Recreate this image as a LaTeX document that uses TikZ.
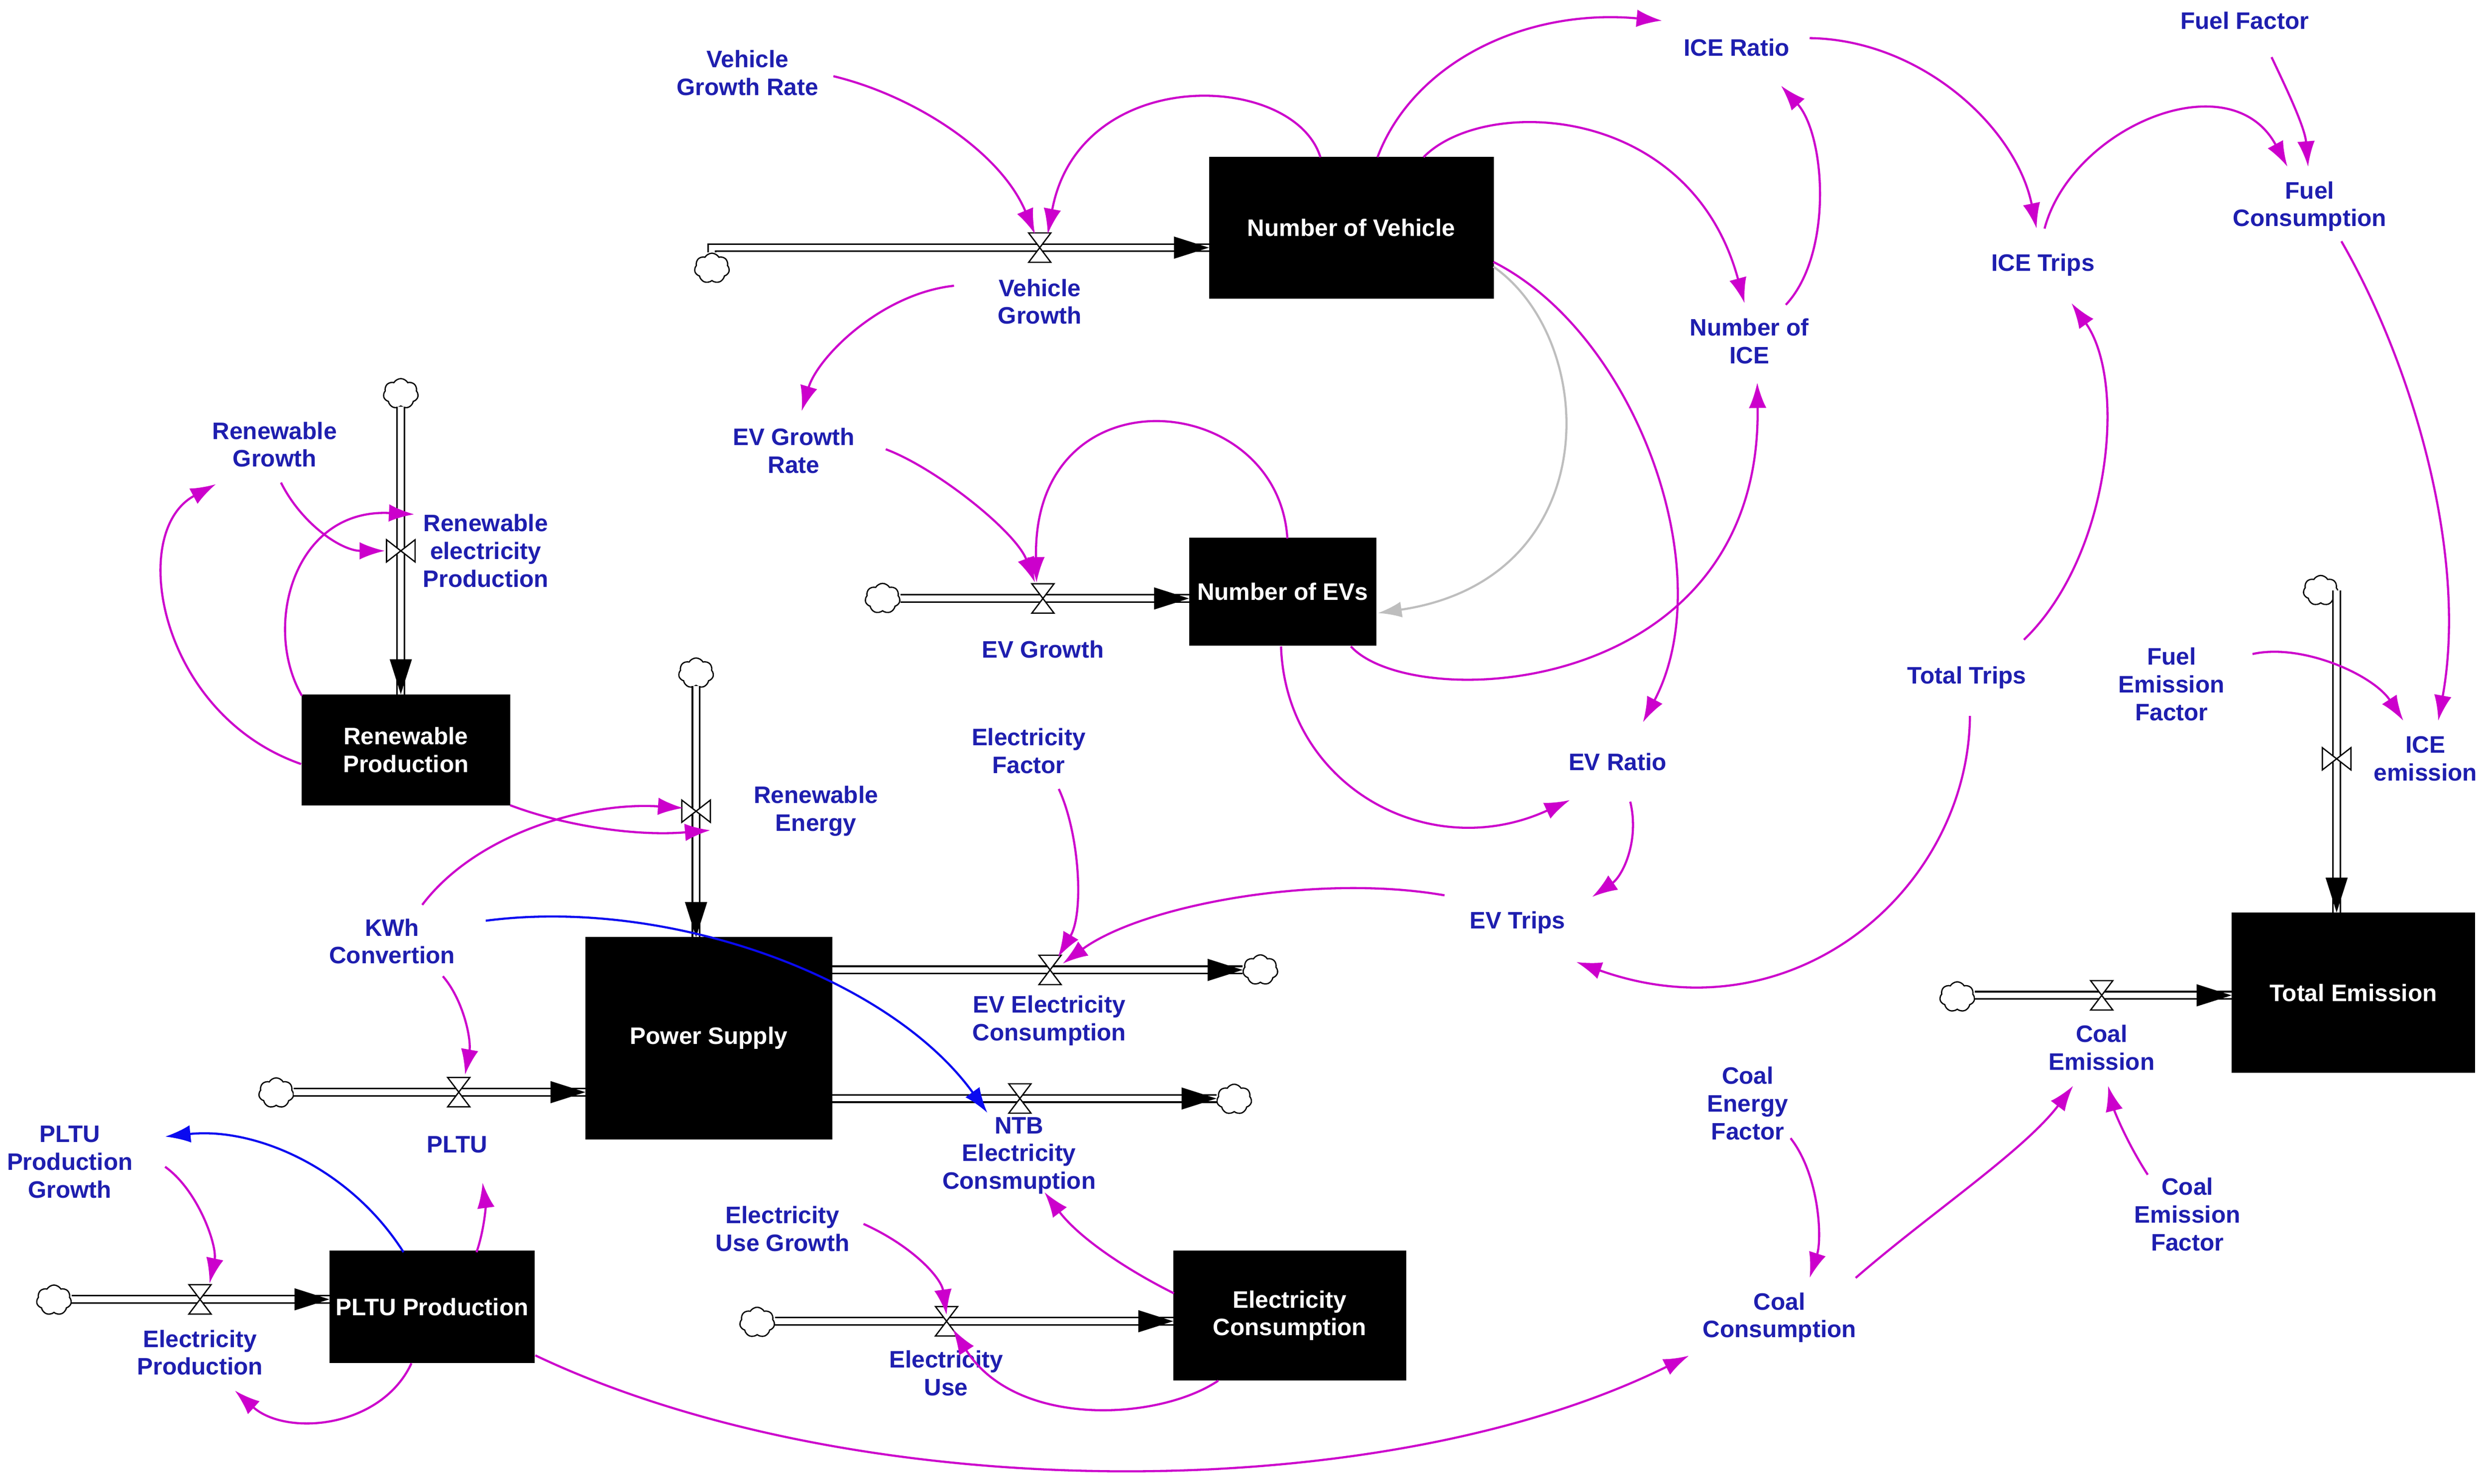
\documentclass[tikz,border=0pt]{standalone}
\usepackage{fontspec}
\setmainfont{Liberation Sans}
\usetikzlibrary{arrows.meta,shapes.symbols}
\definecolor{clbl}{RGB}{30,30,175}
\definecolor{cmag}{RGB}{204,0,204}
\definecolor{cblu}{RGB}{10,10,240}
\definecolor{cgry}{RGB}{190,190,190}
\begin{document}
\begin{tikzpicture}[x=1pt,y=-1pt,
 lab/.style={text=clbl,font=\fontsize{15}{17.5}\selectfont\bfseries,align=center,inner sep=0pt},
 stock/.style={fill=black,draw=black,text=white,font=\fontsize{15}{17.5}\selectfont\bfseries,align=center,inner sep=0pt},
 pipe/.style={draw=black,line width=1pt,double=white,double distance=3.6pt},
 src/.style={cloud,cloud puffs=7,cloud puff arc=120,aspect=1.15,draw=black,fill=white,line width=0.8pt,minimum width=22pt,minimum height=19pt,inner sep=0pt},
 cause/.style={cmag,line width=1.35pt,-{Latex[length=16pt,width=11pt]}},
 causeb/.style={cblu,line width=1.35pt,-{Latex[length=16pt,width=11pt]}},
 causeg/.style={cgry,line width=1.35pt,-{Latex[length=15pt,width=10pt]}},
 valveh/.pic={\draw[black,line width=0.8pt,fill=white] (-7,-9.25) -- (7,-9.25) -- (0,0) -- cycle (-7,9.25) -- (7,9.25) -- (0,0) -- cycle;},
 valvev/.pic={\draw[black,line width=0.8pt,fill=white] (-9,-7) -- (-9,7) -- (0,0) -- cycle (9,-7) -- (9,7) -- (0,0) -- cycle;}
]
\useasboundingbox[fill=white] (0,0) rectangle (1568,934.7);

% ---------- stocks ----------
\node[stock,minimum width=179pt,minimum height=89pt] (nv) at (851.3,143.5) {Number of Vehicle};
\node[stock,minimum width=117.5pt,minimum height=67.7pt] (nev) at (808,372.7) {Number of EVs};
\node[stock,minimum width=131pt,minimum height=69.5pt] (rp) at (255.7,472.3) {Renewable\\Production};
\node[stock,minimum width=155pt,minimum height=127pt] (ps) at (446.5,654) {Power Supply};
\node[stock,minimum width=129pt,minimum height=70.5pt] (pp) at (272.2,823.3) {PLTU Production};
\node[stock,minimum width=146.4pt,minimum height=81.5pt] (ec) at (812.5,828.7) {Electricity\\Consumption};
\node[stock,minimum width=153pt,minimum height=100.6pt] (te) at (1482.5,625.3) {Total Emission};

% ---------- auxiliaries ----------
\node[lab] (vgr) at (471,46) {Vehicle\\Growth Rate};
\node[lab] (icer) at (1094,30) {ICE Ratio};
\node[lab] (ff) at (1414,13) {Fuel Factor};
\node[lab] (fc) at (1455,130) {Fuel\\Consumption};
\node[lab] (icet) at (1287,167) {ICE Trips};
\node[lab] (nice) at (1102,215) {Number of\\ICE};
\node[lab] (evgr) at (500,284) {EV Growth\\Rate};
\node[lab] (rg) at (173,280) {Renewable\\Growth};
\node[lab] (tt) at (1239,427) {Total Trips};
\node[lab] (fef) at (1368,431) {Fuel\\Emission\\Factor};
\node[lab] (evr) at (1019,480) {EV Ratio};
\node[lab] (ef) at (648,473) {Electricity\\Factor};
\node[lab] (evt) at (956,581) {EV Trips};
\node[lab] (kwh) at (247,593) {KWh\\Convertion};
\node[lab] (ppg) at (44,732) {PLTU\\Production\\Growth};
\node[lab] (eug) at (493,774) {Electricity\\Use Growth};
\node[lab] (cenf) at (1101,695) {Coal\\Energy\\Factor};
\node[lab] (cc) at (1121,830) {Coal\\Consumption};
\node[lab] (cemf) at (1378,765) {Coal\\Emission\\Factor};

% ---------- flow labels ----------
\node[lab] (lvg) at (655,190) {Vehicle\\Growth};
\node[lab] (levg) at (657,409) {EV Growth};
\node[lab] (lrep) at (306,347) {Renewable\\electricity\\Production};
\node[lab] (lre) at (514,511) {Renewable\\Energy};
\node[lab] (lpltu) at (288,721) {PLTU};
\node[lab] (levc) at (661,643) {EV Electricity\\Consumption};
\node[lab] (lntb) at (642,728) {NTB\\Electricity\\Consmuption};
\node[lab] (lep) at (126,852) {Electricity\\Production};
\node[lab] (leu) at (596,865) {Electricity\\Use};
\node[lab] (lce) at (1324,660) {Coal\\Emission};
\node[lab] (lice) at (1528,478) {ICE\\emission};

% ---------- valves ----------
\coordinate (vvg) at (655,156);
\coordinate (vevg) at (657,377);
\coordinate (vrep) at (252.5,347);
\coordinate (vre) at (438.5,511);
\coordinate (vpltu) at (289,688);
\coordinate (vevc) at (661.5,611);
\coordinate (vntb) at (642.5,692);
\coordinate (vep) at (126,818.5);
\coordinate (veu) at (596.3,832.3);
\coordinate (vce) at (1324,627);
\coordinate (vice) at (1472,478);

% ---------- clouds ----------
\node[src] (c1) at (448.5,169) {};
\node[src] (c2) at (556,377) {};
\node[src] (c3) at (252.5,248) {};
\node[src] (c4) at (438.5,424) {};
\node[src] (c5) at (174,688.5) {};
\node[src] (c6) at (794,611) {};
\node[src] (c7) at (777.5,692.5) {};
\node[src] (c8) at (34,819) {};
\node[src] (c9) at (477,833) {};
\node[src] (c10) at (1233,628) {};
\node[src] (c11) at (1462,372) {};

% ---------- pipes ----------
\draw[pipe] (c1.north) |- (nv.west |- vvg);
\fill (nv.west |- vvg) -- ++(-22,-7) -- ++(0,14) -- cycle;
\draw[pipe] (c2.east |- vevg) -- (nev.west |- vevg);
\fill (nev.west |- vevg) -- ++(-22,-7) -- ++(0,14) -- cycle;
\draw[pipe] (vrep |- c3.south) -- (vrep |- rp.north);
\fill (vrep |- rp.north) -- ++(-7,-22) -- ++(14,0) -- cycle;
\draw[pipe] (vre |- c4.south) -- (vre |- ps.north);
\fill (vre |- ps.north) -- ++(-7,-22) -- ++(14,0) -- cycle;
\draw[pipe] (c5.east |- vpltu) -- (ps.west |- vpltu);
\fill (ps.west |- vpltu) -- ++(-22,-7) -- ++(0,14) -- cycle;
\draw[pipe] (ps.east |- vevc) -- (c6.west |- vevc);
\fill (c6.west |- vevc) -- ++(-22,-7) -- ++(0,14) -- cycle;
\draw[pipe] (ps.east |- vntb) -- (c7.west |- vntb);
\fill (c7.west |- vntb) -- ++(-22,-7) -- ++(0,14) -- cycle;
\draw[pipe] (c8.east |- vep) -- (pp.west |- vep);
\fill (pp.west |- vep) -- ++(-22,-7) -- ++(0,14) -- cycle;
\draw[pipe] (c9.east |- veu) -- (ec.west |- veu);
\fill (ec.west |- veu) -- ++(-22,-7) -- ++(0,14) -- cycle;
\draw[pipe] (c10.east |- vce) -- (te.west |- vce);
\fill (te.west |- vce) -- ++(-22,-7) -- ++(0,14) -- cycle;
\draw[pipe] (vice |- c11.center) -- (vice |- te.north);
\fill (vice |- te.north) -- ++(-7,-22) -- ++(14,0) -- cycle;

\pic at (vvg) {valveh};
\pic at (vevg) {valveh};
\pic at (vrep) {valvev};
\pic at (vre) {valvev};
\pic at (vpltu) {valveh};
\pic at (vevc) {valveh};
\pic at (vntb) {valveh};
\pic at (vep) {valveh};
\pic at (veu) {valveh};
\pic at (vce) {valveh};
\pic at (vice) {valvev};

% ---------- causal links ----------
\draw[cause] ([shift={(54,2)}]vgr.center) .. controls (575,60) and (630,95) .. ([shift={(-3,-8.5)}]vvg);
\draw[cause] ([shift={(-19.5,-44.5)}]nv.center) .. controls (815,45) and (680,40) .. ([shift={(5,-8.5)}]vvg);
\draw[cause] ([shift={(16.5,-44.5)}]nv.center) .. controls (890,40) and (960,5) .. ([shift={(-47,-17)}]icer.center);
\draw[cause] ([shift={(45.5,-44.5)}]nv.center) .. controls (935,60) and (1065,65) .. ([shift={(-3,-24)}]nice.center);
\draw[cause] ([shift={(23,-23)}]nice.center) .. controls (1155,160) and (1150,85) .. ([shift={(28,24)}]icer.center);
\draw[cause] ([shift={(46,-6)}]icer.center) .. controls (1210,25) and (1270,80) .. ([shift={(-4,-23)}]icet.center);
\draw[cause] ([shift={(1,-23)}]icet.center) .. controls (1305,80) and (1405,38) .. ([shift={(-14,-25)}]fc.center);
\draw[cause] ([shift={(17,23)}]ff.center) .. controls (1440,55) and (1452,80) .. ([shift={(-1,-25)}]fc.center);
\draw[cause] ([shift={(20,22)}]fc.center) .. controls (1520,230) and (1555,350) .. ([shift={(8,-24)}]lice.center);
\draw[cause] ([shift={(51,-19)}]fef.center) .. controls (1450,405) and (1495,425) .. ([shift={(-14,-24)}]lice.center);
\draw[cause] ([shift={(36,-24)}]tt.center) .. controls (1330,350) and (1340,240) .. ([shift={(18,24)}]icet.center);
\draw[cause] ([shift={(2,24)}]tt.center) .. controls (1240,560) and (1130,655) .. ([shift={(37,25)}]evt.center);
\draw[cause] ([shift={(89.5,21.5)}]nv.center) .. controls (1030,210) and (1085,360) .. ([shift={(16,-25)}]evr.center);
\draw[cause] ([shift={(43,34.5)}]nev.center) .. controls (890,450) and (1110,440) .. ([shift={(5,26)}]nice.center);
\draw[cause] ([shift={(-1,34.5)}]nev.center) .. controls (810,495) and (900,545) .. ([shift={(-30,24)}]evr.center);
\draw[cause] ([shift={(3,-33.5)}]nev.center) .. controls (805,245) and (650,232) .. ([shift={(-4,-10)}]vevg);
\draw[cause] ([shift={(58,-1)}]evgr.center) .. controls (590,295) and (640,335) .. ([shift={(-5,-10)}]vevg);
\draw[cause] ([shift={(-54,-10)}]lvg.center) .. controls (555,185) and (515,225) .. ([shift={(5,-25)}]evgr.center);
\draw[cause] ([shift={(8,25)}]evr.center) .. controls (1033,530) and (1022,552) .. ([shift={(47,-16)}]evt.center);
\draw[cause] ([shift={(-46,-17)}]evt.center) .. controls (830,550) and (720,570) .. ([shift={(8,-4)}]vevc);
\draw[cause] ([shift={(19,24)}]ef.center) .. controls (680,525) and (683,575) .. ([shift={(5,-8)}]vevc);
\draw[cause] ([shift={(4,24)}]rg.center) .. controls (190,330) and (215,347) .. ([shift={(-10,0)}]vrep);
\draw[cause] ([shift={(-66,9)}]rp.center) .. controls (100,450) and (80,335) .. ([shift={(-37,25)}]rg.center);
\draw[cause] ([shift={(-65.5,-34)}]rp.center) .. controls (165,395) and (185,320) .. ([shift={(8.5,-23)}]vrep);
\draw[cause] (rp.south east) .. controls (355,520) and (400,527) .. ([shift={(9,12)}]vre);
\draw[cause] ([shift={(19,-23)}]kwh.center) .. controls (300,525) and (370,505) .. ([shift={(-8,-2)}]vre);
\draw[cause] ([shift={(32,22)}]kwh.center) .. controls (292,630) and (297,655) .. ([shift={(4,-11)}]vpltu);
\draw[causeb] ([shift={(59,-13)}]kwh.center) .. controls (420,565) and (560,615) .. ([shift={(-20,-27)}]lntb.center);
\draw[causeb] ([shift={(-18,-34.5)}]pp.center) .. controls (220,735) and (160,710) .. ([shift={(60,-16)}]ppg.center);
\draw[cause] ([shift={(28,-34.5)}]pp.center) .. controls (305,775) and (306,760) .. ([shift={(16,24)}]lpltu.center);
\draw[cause] ([shift={(60,3)}]ppg.center) .. controls (125,750) and (137,785) .. ([shift={(6,-10)}]vep);
\draw[cause] ([shift={(-13,35.5)}]pp.center) .. controls (240,900) and (180,905) .. ([shift={(22,24)}]lep.center);
\draw[cause] ([shift={(65,30.5)}]pp.center) .. controls (540,950) and (870,950) .. ([shift={(-57,24)}]cc.center);
\draw[cause] ([shift={(51,-3)}]eug.center) .. controls (575,785) and (593,805) .. ([shift={(0,-4)}]veu);
\draw[cause] ([shift={(-45,41)}]ec.center) .. controls (730,895) and (640,900) .. ([shift={(4,5)}]veu);
\draw[cause] ([shift={(-73,-14)}]ec.center) .. controls (710,800) and (680,780) .. ([shift={(16,23)}]lntb.center);
\draw[cause] ([shift={(27,22)}]cenf.center) .. controls (1146,740) and (1148,780) .. ([shift={(19,-25)}]cc.center);
\draw[cause] ([shift={(48,-25)}]cc.center) .. controls (1215,765) and (1275,725) .. ([shift={(-18,24)}]lce.center);
\draw[cause] ([shift={(-25,-25)}]cemf.center) .. controls (1340,720) and (1332,700) .. ([shift={(4,24)}]lce.center);
\draw[causeg] ([shift={(89.5,24.5)}]nv.center) .. controls (1008,215) and (1012,365) .. ([shift={(60,13.5)}]nev.center);
\end{tikzpicture}
\end{document}
